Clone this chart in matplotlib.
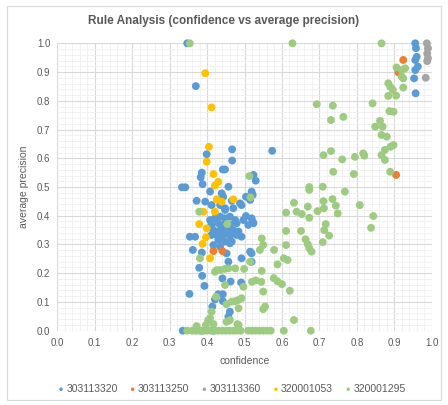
import matplotlib
matplotlib.use("Agg")
import matplotlib.pyplot as plt
from matplotlib.patches import Rectangle
from matplotlib.ticker import MultipleLocator, FormatStrFormatter

plt.rcParams['font.family'] = ['Liberation Sans', 'DejaVu Sans']

series_names = ["303113320", "303113250", "303113360", "320001053", "320001295"]
series_colors = ["#5B9BD5", "#ED7D31", "#A5A5A5", "#FFC000", "#9DCB80"]

# 303113320 (blue)
blue_x = [0.347, 0.370, 0.956, 0.958, 0.960, 0.956, 0.963, 0.956, 0.953, 0.957,
          0.467, 0.574, 0.399, 0.467, 0.442, 0.448, 0.386, 0.383, 0.388, 0.333, 0.342,
          0.524, 0.530, 0.457, 0.408, 0.439, 0.443, 0.504, 0.372, 0.395, 0.466,
          0.492, 0.435, 0.412, 0.448, 0.519, 0.522, 0.519, 0.522, 0.519, 0.519,
          0.408, 0.421, 0.435, 0.448, 0.461, 0.475, 0.412, 0.430, 0.443, 0.461, 0.479,
          0.417, 0.435, 0.452, 0.470, 0.412, 0.426, 0.443, 0.461, 0.479, 0.430, 0.448,
          0.466, 0.435, 0.461, 0.417, 0.497, 0.510, 0.504, 0.524, 0.484, 0.492, 0.448,
          0.470, 0.488, 0.515, 0.354, 0.368, 0.362, 0.386, 0.457, 0.492, 0.515, 0.452,
          0.379, 0.387, 0.393, 0.353, 0.441, 0.463, 0.491, 0.430, 0.442, 0.421, 0.442,
          0.414, 0.461, 0.457, 0.335, 0.386, 0.417]
blue_y = [1.000, 0.851, 1.000, 0.983, 0.953, 0.942, 0.919, 0.907, 0.878, 0.826,
          0.631, 0.626, 0.614, 0.592, 0.561, 0.561, 0.550, 0.534, 0.510, 0.499, 0.499,
          0.542, 0.522, 0.501, 0.484, 0.478, 0.466, 0.466, 0.452, 0.449, 0.452,
          0.437, 0.437, 0.437, 0.426, 0.484, 0.472, 0.391, 0.379, 0.269, 0.240,
          0.385, 0.391, 0.397, 0.391, 0.397, 0.385, 0.368, 0.374, 0.368, 0.368, 0.374,
          0.350, 0.350, 0.348, 0.350, 0.333, 0.333, 0.333, 0.330, 0.333, 0.316, 0.310,
          0.310, 0.292, 0.304, 0.298, 0.385, 0.368, 0.399, 0.374, 0.345, 0.327, 0.420,
          0.426, 0.443, 0.455, 0.327, 0.327, 0.281, 0.272, 0.240, 0.252, 0.275, 0.269,
          0.219, 0.191, 0.156, 0.128, 0.182, 0.171, 0.168, 0.127, 0.127, 0.109, 0.103,
          0.084, 0.066, 0.049, 0.000, 0.000, 0.000]

# 303113250 (orange)
orange_x = [0.924, 0.911, 0.905, 0.417, 0.441]
orange_y = [0.942, 0.899, 0.542, 0.277, 0.277]

# 303113360 (gray)
gray_x = [0.987, 0.990, 0.988, 0.990, 0.988, 0.984]
gray_y = [1.000, 0.983, 0.965, 0.948, 0.938, 0.880]

# 320001053 (yellow)
yellow_x = [0.395, 0.412, 0.405, 0.399, 0.417, 0.430, 0.421, 0.426, 0.439, 0.470,
            0.379, 0.399, 0.397, 0.388, 0.408, 0.390, 0.421]
yellow_y = [0.896, 0.777, 0.640, 0.588, 0.545, 0.518, 0.505, 0.457, 0.449, 0.457,
            0.371, 0.356, 0.325, 0.302, 0.252, 0.414, 0.414]

# 320001295 (green)
green_x = [0.354, 0.628, 0.866,
           0.906, 0.920, 0.929, 0.920, 0.924, 0.924, 0.884, 0.889, 0.896, 0.884, 0.905,
           0.842, 0.887, 0.898, 0.862, 0.849, 0.869, 0.866, 0.880, 0.898, 0.890, 0.875,
           0.866, 0.875, 0.889,
           0.693, 0.736, 0.731, 0.764, 0.711, 0.731, 0.761, 0.795, 0.817, 0.820, 0.737,
           0.792, 0.673, 0.673, 0.709, 0.768, 0.735, 0.711, 0.744, 0.808, 0.632, 0.611,
           0.639, 0.653, 0.669, 0.695, 0.712, 0.749, 0.673, 0.844, 0.838,
           0.611, 0.651, 0.717, 0.713, 0.726, 0.709, 0.611, 0.663, 0.669, 0.673, 0.679,
           0.579, 0.605, 0.615, 0.588, 0.578, 0.588, 0.600, 0.621, 0.632,
           0.546, 0.550, 0.541, 0.520, 0.530, 0.545, 0.550, 0.555, 0.550,
           0.513, 0.516, 0.379, 0.454, 0.381, 0.515, 0.426,
           0.421, 0.435, 0.448, 0.457, 0.475, 0.499, 0.546, 0.497, 0.448, 0.492, 0.484,
           0.475, 0.466, 0.424, 0.452, 0.484, 0.412, 0.408, 0.461, 0.484, 0.397,
           0.372, 0.403, 0.417, 0.452, 0.481,
           0.347, 0.360, 0.370, 0.380, 0.390, 0.400, 0.410, 0.420, 0.430, 0.440, 0.450,
           0.460, 0.470, 0.480, 0.490, 0.510, 0.520, 0.530, 0.540, 0.550, 0.560, 0.570,
           0.605, 0.677]
green_y = [1.000, 1.000, 1.000,
           0.916, 0.907, 0.913, 0.884, 0.878, 0.846, 0.861, 0.849, 0.838, 0.817, 0.818,
           0.791, 0.764, 0.762, 0.730, 0.710, 0.710, 0.681, 0.675, 0.646, 0.640, 0.629,
           0.611, 0.594, 0.553,
           0.788, 0.783, 0.733, 0.744, 0.611, 0.625, 0.596, 0.605, 0.617, 0.609, 0.553,
           0.545, 0.500, 0.490, 0.501, 0.484, 0.458, 0.451, 0.435, 0.437, 0.445, 0.411,
           0.414, 0.406, 0.432, 0.416, 0.426, 0.408, 0.393, 0.399, 0.358,
           0.347, 0.347, 0.371, 0.350, 0.331, 0.308, 0.298, 0.318, 0.301, 0.287, 0.275,
           0.281, 0.252, 0.246, 0.231, 0.183, 0.172, 0.162, 0.139, 0.037,
           0.321, 0.298, 0.281, 0.170, 0.175, 0.170, 0.136, 0.084, 0.075,
           0.538, 0.464, 0.414, 0.371, 0.252, 0.240, 0.211,
           0.205, 0.211, 0.215, 0.217, 0.217, 0.215, 0.208, 0.153, 0.159, 0.113, 0.107,
           0.103, 0.101, 0.118, 0.092, 0.078, 0.066, 0.043, 0.037, 0.020, 0.020,
           0.016, 0.037, 0.023, 0.031, 0.023,
           0.000, 0.000, 0.000, 0.000, 0.000, 0.000, 0.000, 0.000, 0.000, 0.000, 0.000,
           0.000, 0.000, 0.000, 0.000, 0.000, 0.000, 0.000, 0.000, 0.000, 0.000, 0.000,
           0.000, 0.000]

all_x = [blue_x, orange_x, gray_x, yellow_x, green_x]
all_y = [blue_y, orange_y, gray_y, yellow_y, green_y]

text_col = "#595959"

fig = plt.figure(figsize=(4.48, 4.05), dpi=100)
fig.patches.append(Rectangle((7 / 448, 5 / 405), 434 / 448, 394 / 405,
                             transform=fig.transFigure, fill=False,
                             edgecolor="#D9D9D9", linewidth=0.8))

ax = fig.add_axes([57.3 / 448, 1 - 330.7 / 405, 374.4 / 448, 287.4 / 405])

for xs, ys, name, col in zip(all_x, all_y, series_names, series_colors):
    ax.scatter(xs, ys, s=32, color=col, edgecolors="none", label=name, zorder=3,
               clip_on=False)

ax.set_xlim(0, 1)
ax.set_ylim(0, 1)
ax.xaxis.set_major_locator(MultipleLocator(0.1))
ax.yaxis.set_major_locator(MultipleLocator(0.1))
ax.xaxis.set_minor_locator(MultipleLocator(0.02))
ax.yaxis.set_minor_locator(MultipleLocator(0.02))
ax.grid(which="major", color="#D9D9D9", linewidth=0.8, zorder=1)
ax.grid(which="minor", color="#EFEFEF", linewidth=0.6, zorder=0)
ax.set_axisbelow(True)
for sp in ax.spines.values():
    sp.set_visible(False)
ax.tick_params(which="both", length=0, labelsize=7, colors=text_col, pad=5)
ax.xaxis.set_major_formatter(FormatStrFormatter("%.1f"))
ax.yaxis.set_major_formatter(FormatStrFormatter("%.1f"))

ax.set_xlabel("confidence", fontsize=7.5, color=text_col, labelpad=6)
ax.set_ylabel("average precision", fontsize=7.5, color=text_col, labelpad=6)
fig.text(0.5, 1 - 21 / 405, "Rule Analysis (confidence vs average precision)",
         ha="center", va="center", fontsize=8.5, fontweight="bold", color=text_col)

leg = fig.legend(loc="center", bbox_to_anchor=(231 / 448, 1 - 389 / 405), ncol=5,
                 frameon=False, fontsize=7.5, markerscale=0.45, handletextpad=0.05,
                 columnspacing=1.0, handlelength=0.9, borderaxespad=0)
for t in leg.get_texts():
    t.set_color(text_col)

fig.savefig("out.png", dpi=100)
